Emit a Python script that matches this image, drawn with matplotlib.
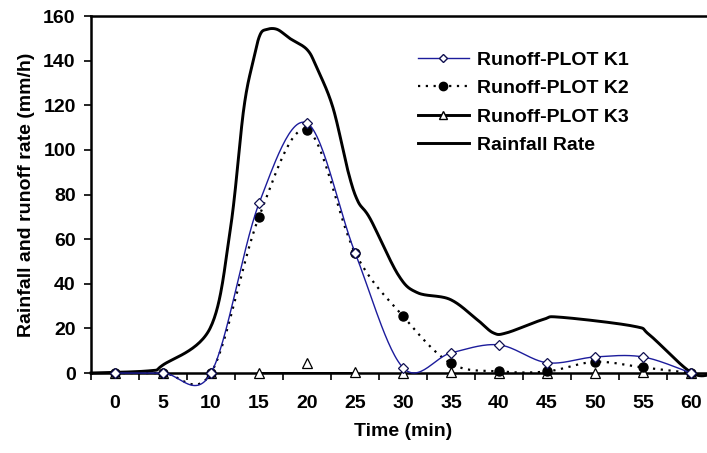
import numpy as np
import matplotlib.pyplot as plt
from matplotlib.lines import Line2D

plt.rcParams['font.family'] = ['Liberation Sans', 'DejaVu Sans']
plt.rcParams['font.weight'] = 'bold'

# data
time = [0, 5, 10, 15, 20, 25, 30, 35, 40, 45, 50, 55, 60]
k1 = [0, 0, 0, 76, 112, 54, 2.4, 9, 12.6, 4.6, 7.2, 7.2, 0]
k2 = [0, 0, 0, 70, 109, 54, 25.5, 4.3, 0.7, 0.7, 5, 2.5, 0]
k3 = [0, 0, 0, 0, 4.6, 0.4, 0, 0.4, 0, 0, 0, 0.4, 0]

rain_t = [-2.5, 3.6, 5, 9.9, 12, 13.4, 14.4, 15.1, 15.8, 16.9, 18.2, 20, 21,
          22.7, 24.3, 25.3, 26.6, 29.5, 31.5, 34.9, 37.7, 39.4, 40.8, 44.6,
          46.4, 54, 55.7, 60.1, 62.5]
rain = [0, 1, 3.6, 20, 64, 118, 140, 151.5, 154, 154, 150, 145, 137,
        119, 90, 77, 69, 44, 36, 33, 24, 18, 18, 24,
        25, 21, 17, 0, 0]


def smooth(x, y, n=30):
    # excel style bezier smoothing through the points
    x = np.asarray(x, float)
    y = np.asarray(y, float)
    px = np.concatenate([[x[0]], x, [x[-1]]])
    py = np.concatenate([[y[0]], y, [y[-1]]])
    xs, ys = [], []
    s = np.linspace(0, 1, n)
    for i in range(1, len(px) - 2):
        p0 = np.array([px[i], py[i]])
        p3 = np.array([px[i + 1], py[i + 1]])
        c1 = p0 + (np.array([px[i + 1], py[i + 1]]) - np.array([px[i - 1], py[i - 1]])) / 6
        c2 = p3 - (np.array([px[i + 2], py[i + 2]]) - np.array([px[i], py[i]])) / 6
        b = (np.outer((1 - s) ** 3, p0) + np.outer(3 * (1 - s) ** 2 * s, c1)
             + np.outer(3 * (1 - s) * s ** 2, c2) + np.outer(s ** 3, p3))
        xs.extend(b[:, 0])
        ys.extend(b[:, 1])
    return np.array(xs), np.array(ys)


fig = plt.figure(figsize=(7.07, 4.53), dpi=100)
ax = fig.add_axes([0.1287, 0.1766, 0.8826, 0.788])

blue = '#1c1c9c'

# rainfall
rx, ry = smooth(rain_t, rain)
ax.plot(rx, ry, color='black', lw=2.1, zorder=3, clip_on=False)

# K3 thick line + triangles
ax.plot(time[3:6], np.zeros(3) + k3[3], color='black', lw=2.1, zorder=3)
ax.plot(time, k3, ls='none', marker='^', ms=7.5, mfc='white', mec='black',
        mew=0.9, zorder=4, clip_on=False)

# K2 dotted + dots
x2, y2 = smooth(time, k2)
ax.plot(x2, y2, color='black', lw=1.6, ls=(0, (1, 2.5)), zorder=4, clip_on=False)
ax.plot(time, k2, ls='none', marker='o', ms=6.5, color='black', zorder=5,
        clip_on=False)

# K1 blue + diamonds
x1, y1 = smooth(time, k1)
ax.plot(x1, y1, color=blue, lw=1.0, zorder=6, clip_on=False)
ax.plot(time, k1, ls='none', marker='D', ms=5.5, mfc='white', mec='#101050',
        mew=0.9, zorder=7, clip_on=False)

ax.set_xlim(-2.5, 62.5)
ax.set_ylim(0, 160)
ax.set_yticks(range(0, 161, 20))
ax.set_xticks(time)
ax.set_xticks(np.arange(-2.5, 63, 5), minor=True)
ax.tick_params(axis='x', which='major', length=0, pad=16, labelsize=14)
ax.tick_params(axis='x', which='minor', length=5, width=1.2, direction='out')
ax.tick_params(axis='y', length=5, width=1.2, pad=6, labelsize=14)
for sp in ['left', 'top', 'bottom']:
    ax.spines[sp].set_linewidth(1.8)
ax.spines['right'].set_visible(False)

ax.set_xlabel('Time (min)', fontsize=14, fontweight='bold', labelpad=8)
ax.set_ylabel('Rainfall and runoff rate (mm/h)', fontsize=14,
              fontweight='bold', labelpad=6)

handles = [
    Line2D([], [], color=blue, lw=1.0, marker='D', ms=4.5, mfc='white', mec='#101050'),
    Line2D([], [], color='black', lw=1.6, ls=(0, (1, 2.5)), marker='o', ms=6),
    Line2D([], [], color='black', lw=2.1, marker='^', ms=6, mfc='white', mec='black'),
    Line2D([], [], color='black', lw=2.1),
]
labels = ['Runoff-PLOT K1', 'Runoff-PLOT K2', 'Runoff-PLOT K3', 'Rainfall Rate']
ax.legend(handles, labels, loc='upper left', bbox_to_anchor=(0.496, 0.95),
          frameon=False, handlelength=2.6, handletextpad=0.45,
          labelspacing=0.55, prop={'weight': 'bold', 'size': 14})

fig.savefig('out.png', dpi=100)
